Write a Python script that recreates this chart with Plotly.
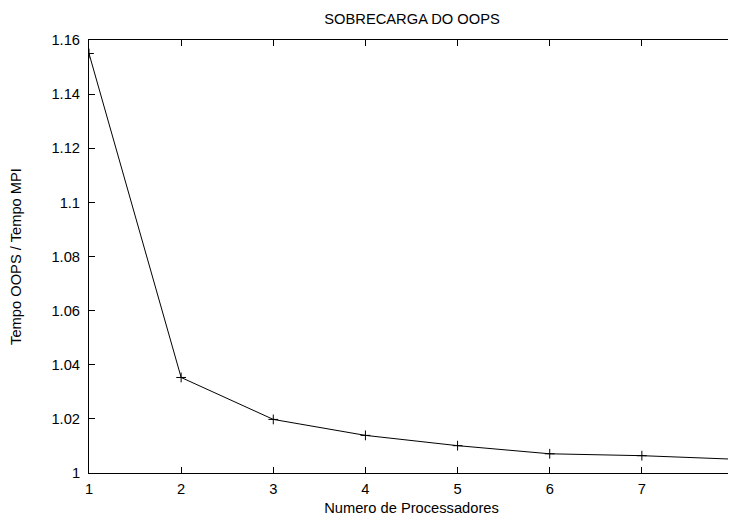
import plotly.graph_objects as go

processors = [1, 2, 3, 4, 5, 6, 7, 8]
ratio = [1.155, 1.0353, 1.0198, 1.0139, 1.0101, 1.0071, 1.0064, 1.0051]

y_tick_vals = [1.0, 1.02, 1.04, 1.06, 1.08, 1.10, 1.12, 1.14, 1.16]
y_tick_text = ["1", "1.02", "1.04", "1.06", "1.08", "1.1", "1.12", "1.14", "1.16"]
x_tick_vals = [1, 2, 3, 4, 5, 6, 7, 8]

FONT = "Liberation Sans, Arial, sans-serif"
FS = 14.7

fig = go.Figure()
fig.add_trace(go.Scatter(
    x=processors, y=ratio, mode="lines+markers",
    line=dict(color="black", width=1),
    marker=dict(symbol="cross-thin", size=7, line=dict(color="black", width=1)),
    showlegend=False,
))

axis_common = dict(
    showline=True, linecolor="black", linewidth=1, mirror="ticks",
    ticks="inside", ticklen=6, tickwidth=1, tickcolor="black",
    showgrid=False, zeroline=False, automargin=False,
    ticklabeloverflow="allow",
    tickfont=dict(family=FONT, size=FS, color="black"),
)

fig.update_layout(
    width=728, height=510,
    margin=dict(l=81, r=1.5, t=31.5, b=45),
    paper_bgcolor="white", plot_bgcolor="white",
    font=dict(family=FONT, size=FS, color="black"),
    title=dict(text="SOBRECARGA DO OOPS", x=0.555, xanchor="center", y=0.978, yanchor="middle",
               font=dict(family=FONT, size=FS, color="black")),
    xaxis=dict(range=[1, 8], tickvals=x_tick_vals, ticklabelstandoff=2,
               title=dict(text="Numero de Processadores", standoff=7,
                          font=dict(family=FONT, size=FS)),
               **axis_common),
    yaxis=dict(range=[1.0, 1.16], tickvals=y_tick_vals, ticktext=y_tick_text,
               ticklabelstandoff=5,
               title=dict(text="Tempo OOPS / Tempo MPI", standoff=26,
                          font=dict(family=FONT, size=FS)),
               **axis_common),
)

fig.write_html("out.html")
